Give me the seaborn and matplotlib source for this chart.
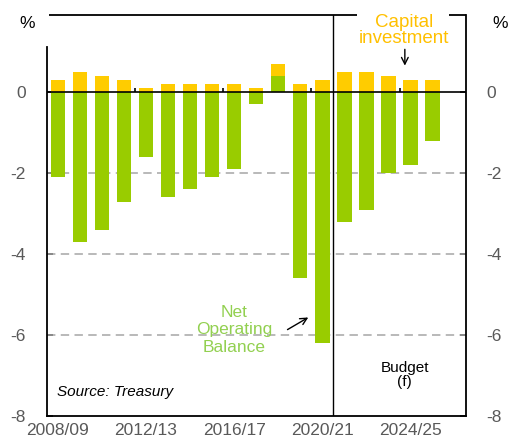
import matplotlib
matplotlib.use("Agg")
import matplotlib.pyplot as plt
import seaborn as sns
import pandas as pd

# Fiscal years and balances (% of GSP)
years = ["2008/09", "2009/10", "2010/11", "2011/12", "2012/13", "2013/14",
         "2014/15", "2015/16", "2016/17", "2017/18", "2018/19", "2019/20",
         "2020/21", "2021/22", "2022/23", "2023/24", "2024/25", "2025/26"]
net_operating_balance = [-2.1, -3.7, -3.4, -2.7, -1.6, -2.6, -2.4, -2.1, -1.9,
                         -0.3, 0.4, -4.6, -6.2, -3.2, -2.9, -2.0, -1.8, -1.2]
capital_investment = [0.3, 0.5, 0.4, 0.3, 0.1, 0.2, 0.2, 0.2, 0.2,
                      0.1, 0.3, 0.2, 0.3, 0.5, 0.5, 0.4, 0.3, 0.3]
labelled_years = ["2008/09", "2012/13", "2016/17", "2020/21", "2024/25"]
y_ticks = [0, -2, -4, -6, -8]

GREEN = "#99CC00"
YELLOW = "#FFCC00"
GREEN_TXT = "#92D050"
YELLOW_TXT = "#FFC000"
GREY = "#595959"

sns.set_theme(style="white")
plt.rcParams["font.family"] = ["Liberation Sans", "DejaVu Sans"]

df = pd.DataFrame({"year": years, "nob": net_operating_balance, "cap": capital_investment})
# capital investment sits on top of any positive operating balance
df["stack_top"] = df["nob"].clip(lower=0) + df["cap"]

fig = plt.figure(figsize=(5.15, 4.44), dpi=100)
ax = fig.add_axes([0.0907, 0.0631, 0.8136, 0.9031])

bar_w = 0.65
sns.barplot(data=df, x="year", y="stack_top", order=years, color=YELLOW,
            saturation=1, width=bar_w, ax=ax, zorder=3, linewidth=0)
sns.barplot(data=df, x="year", y="nob", order=years, color=GREEN,
            saturation=1, width=bar_w, ax=ax, zorder=3, linewidth=0)

ax.set_xlim(-0.5, 18.5)
ax.set_ylim(-8, 1.91)

# dashed gridlines
for v in [-2, -4, -6]:
    ax.axhline(v, color="#A6A6A6", lw=1.1, dashes=(5.5, 3.5), zorder=1)
# zero line with small category ticks every four years
ax.axhline(0, color="black", lw=1.2, zorder=4)
ax.vlines([3.5, 7.5, 11.5, 15.5], 0, 0.1, color="black", lw=1.2, zorder=4)

# budget / forecast divider
ax.axvline(12.5, color="black", lw=1.0, zorder=4)

# frame
for side in ["left", "right", "bottom"]:
    ax.spines[side].set_color("black")
    ax.spines[side].set_linewidth(1.3)
ax.spines["top"].set_visible(False)
ax.spines["left"].set_bounds(-8, 1.12)
for x0, x1 in [(0.005, 0.741), (0.96, 1.0)]:
    ax.plot([x0, x1], [1, 1], transform=ax.transAxes, color="black",
            lw=1.3, clip_on=False, zorder=5, solid_capstyle="butt")

ax.set_yticks(y_ticks)
ax.set_yticklabels([str(t) for t in y_ticks])
ax.set_xticks([years.index(y) for y in labelled_years])
ax.set_xticklabels(labelled_years)
ax.set_xlabel("")
ax.set_ylabel("")
ax.tick_params(axis="y", which="both", direction="in", length=4, width=1.2,
               left=True, right=True, labelleft=True, labelright=True,
               labelsize=12.5, labelcolor=GREY, color="black", pad=15)
ax.tick_params(axis="x", length=0, labelsize=12.5, labelcolor=GREY, pad=5)

fig.text(27 / 515, 1 - 24 / 444, "%", ha="center", va="center", fontsize=12.5, color="black")
fig.text(500 / 515, 1 - 24 / 444, "%", ha="center", va="center", fontsize=12.5, color="black")

# annotations
ax.text(8.0, -5.87, "Net\nOperating\nBalance", ha="center", va="center",
        fontsize=12.5, color=GREEN_TXT, linespacing=1.2, zorder=6)
ax.annotate("", xy=(11.47, -5.53), xytext=(10.31, -5.9),
            arrowprops=dict(arrowstyle="->", color="black", lw=1.0), zorder=6)

ax.text(15.69, 1.52, "Capital\ninvestment", ha="center", va="center",
        fontsize=13.5, color=YELLOW_TXT, linespacing=0.95, zorder=6,
        clip_on=False)
ax.annotate("", xy=(15.74, 0.59), xytext=(15.74, 1.13),
            arrowprops=dict(arrowstyle="->", color="black", lw=1.0),
            annotation_clip=False, zorder=6)

ax.text(15.74, -6.99, "Budget\n(f)", ha="center", va="center",
        fontsize=11, color="black", linespacing=1.05, zorder=6)
ax.text(-0.02, -7.41, "Source: Treasury", ha="left", va="center",
        fontsize=11, style="italic", color="black", zorder=6)

fig.savefig("out.png", dpi=100)
